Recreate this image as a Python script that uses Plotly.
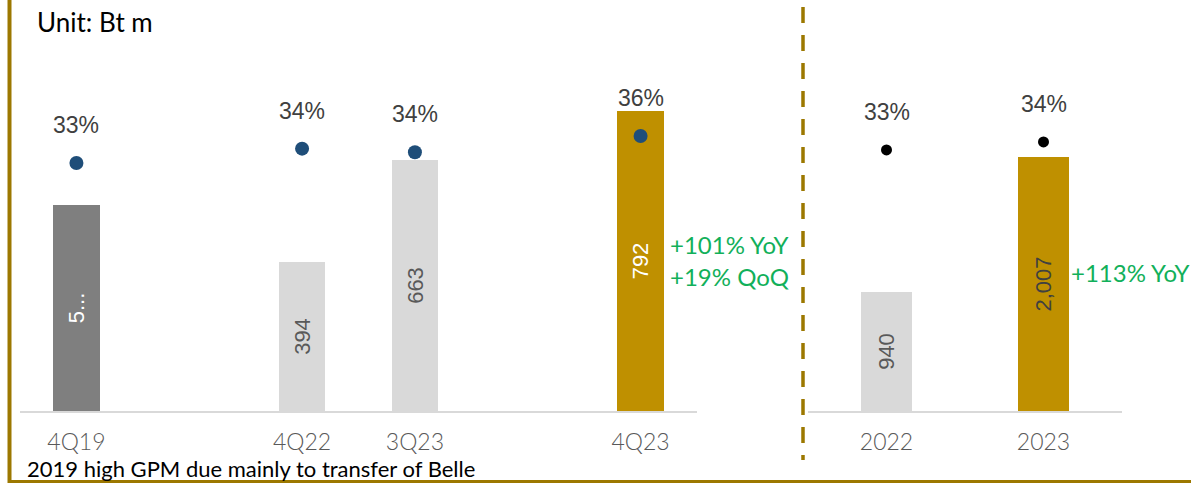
import plotly.graph_objects as go

# Quarterly gross profit (Bt m) and gross profit margin (%)
quarters = ["4Q19", "4Q22", "3Q23", "4Q23"]
quarter_slots = [0, 2, 3, 5]
quarter_profit = [543, 394, 663, 792]
quarter_profit_text = ["5...", "394", "663", "792"]
quarter_gpm = [32.6, 34.2, 33.8, 35.6]

# Full-year gross profit (Bt m) and gross profit margin (%)
years = ["2022", "2023"]
year_profit = [940, 2007]
year_gpm = [33.4, 34.3]

W, H = 1191, 483
BASE_PX = 411          # baseline of the bars, in page pixels from the top
GOLD = "#BF9000"
FRAME = "#9C7800"
GREEN = "#12B05A"
SANS = "Liberation Sans, Arial, sans-serif"
GEO = "Lato, sans-serif"


def px_x(x):
    return x / W


def px_y(y):
    return 1 - y / H


ydom = [px_y(BASE_PX), 1.0]

fig = go.Figure()

fig.add_trace(go.Bar(
    x=quarter_slots, y=quarter_profit, width=0.41,
    marker=dict(color=["#7F7F7F", "#D9D9D9", "#D9D9D9", GOLD], line=dict(width=0)),
    text=quarter_profit_text, textposition="inside", textangle=-90,
    insidetextanchor="middle", constraintext="none",
    textfont=dict(family=SANS, size=22, color=["#FFFFFF", "#595959", "#595959", "#FFFFFF"]),
    xaxis="x", yaxis="y", showlegend=False, cliponaxis=False,
))
fig.add_trace(go.Scatter(
    x=quarter_slots, y=quarter_gpm, mode="markers",
    marker=dict(size=14, color="#1F4E79"),
    xaxis="x", yaxis="y2", showlegend=False,
))

fig.add_trace(go.Bar(
    x=[0, 1], y=year_profit, width=0.32,
    marker=dict(color=["#D9D9D9", GOLD], line=dict(width=0)),
    text=[f"{v:,}" for v in year_profit], textposition="inside", textangle=-90,
    insidetextanchor="middle", constraintext="none",
    textfont=dict(family=SANS, size=22, color=["#595959", "#404040"]),
    xaxis="x2", yaxis="y3", showlegend=False,
))
fig.add_trace(go.Scatter(
    x=[0, 1], y=year_gpm, mode="markers",
    marker=dict(size=11, color="#000000"),
    xaxis="x2", yaxis="y4", showlegend=False,
))

annotations = []
for s, g in zip(quarter_slots, quarter_gpm):
    annotations.append(dict(x=s, y=g, xref="x", yref="y2", text=f"{g:.0f}%",
                            showarrow=False, yshift=38,
                            font=dict(family=SANS, size=23, color="#404040")))
for s, g in zip([0, 1], year_gpm):
    annotations.append(dict(x=s, y=g, xref="x2", yref="y4", text=f"{g:.0f}%",
                            showarrow=False, yshift=38,
                            font=dict(family=SANS, size=23, color="#404040")))

annotations += [
    dict(x=px_x(35), y=px_y(22), xref="paper", yref="paper", xanchor="left",
         yanchor="middle", text="Unit: Bt m", showarrow=False,
         font=dict(family=GEO, size=26, color="#000000")),
    dict(x=px_x(25), y=px_y(468), xref="paper", yref="paper", xanchor="left",
         yanchor="middle", text="2019 high GPM due mainly to transfer of Belle",
         showarrow=False, font=dict(family=GEO, size=22, color="#000000")),
    dict(x=px_x(668), y=px_y(244), xref="paper", yref="paper", xanchor="left",
         yanchor="middle", text="+101% YoY", showarrow=False,
         font=dict(family=GEO, size=24, color=GREEN)),
    dict(x=px_x(668), y=px_y(276), xref="paper", yref="paper", xanchor="left",
         yanchor="middle", text="+19% QoQ", showarrow=False,
         font=dict(family=GEO, size=24, color=GREEN)),
    dict(x=px_x(1069), y=px_y(272), xref="paper", yref="paper", xanchor="left",
         yanchor="middle", text="+113% YoY", showarrow=False,
         font=dict(family=GEO, size=24, color=GREEN)),
]

shapes = [
    # divider between quarterly and annual panels
    dict(type="line", xref="paper", yref="paper", x0=px_x(803), x1=px_x(803),
         y0=px_y(7), y1=px_y(460), line=dict(color=FRAME, width=3.5, dash="16px,12px")),
    # frame lines
    dict(type="line", xref="paper", yref="paper", x0=px_x(9.5), x1=px_x(9.5),
         y0=0, y1=1, line=dict(color=FRAME, width=4)),
    dict(type="line", xref="paper", yref="paper", x0=px_x(9.5), x1=1,
         y0=px_y(481.5), y1=px_y(481.5), line=dict(color=FRAME, width=3)),
]

tickfont = dict(family=GEO, size=23, color="#595959", weight=300)

fig.update_layout(
    width=W, height=H,
    margin=dict(l=0, r=0, t=0, b=0),
    paper_bgcolor="white", plot_bgcolor="rgba(0,0,0,0)",
    bargap=0,
    xaxis=dict(domain=[px_x(20), px_x(697)], range=[-0.5, 5.5],
               tickvals=quarter_slots, ticktext=quarters, tickfont=tickfont,
               showline=True, linecolor="#D9D9D9", linewidth=2,
               showgrid=False, zeroline=False, ticks="", ticklabelstandoff=9,
               anchor="y", fixedrange=True),
    yaxis=dict(domain=ydom, range=[0, BASE_PX / 0.379], visible=False,
               showgrid=False, zeroline=False),
    yaxis2=dict(domain=ydom, overlaying="y", range=[4.95, 50.77], visible=False,
                showgrid=False, zeroline=False),
    xaxis2=dict(domain=[px_x(808), px_x(1122)], range=[-0.5, 1.5],
                tickvals=[0, 1], ticktext=years, tickfont=tickfont,
                showline=True, linecolor="#D9D9D9", linewidth=2,
                showgrid=False, zeroline=False, ticks="", ticklabelstandoff=9,
                anchor="y3"),
    yaxis3=dict(domain=ydom, range=[0, BASE_PX / 0.1266], visible=False,
                showgrid=False, zeroline=False, anchor="x2"),
    yaxis4=dict(domain=ydom, overlaying="y3", range=[4.3, 50.12], visible=False,
                showgrid=False, zeroline=False, anchor="x2"),
    annotations=annotations,
    shapes=shapes,
)

fig.write_html("out.html")
